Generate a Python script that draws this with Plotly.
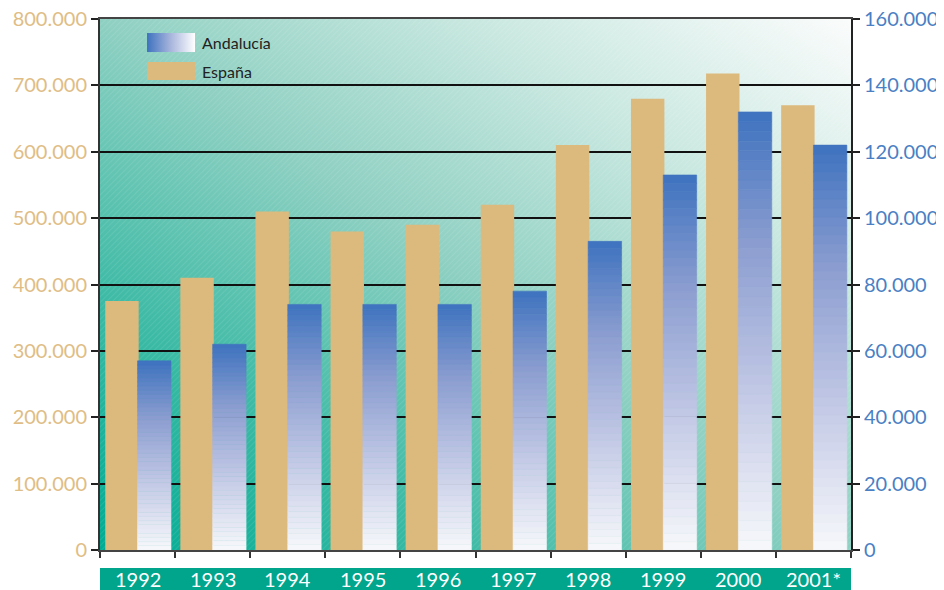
import base64
import plotly.graph_objects as go

years = ["1992", "1993", "1994", "1995", "1996", "1997", "1998", "1999", "2000", "2001*"]
espana = [375000, 410000, 510000, 480000, 490000, 520000, 610000, 680000, 718000, 670000]
andalucia = [57000, 62000, 74000, 74000, 74000, 78000, 93000, 113000, 132000, 122000]
left_ticks = [0, 100000, 200000, 300000, 400000, 500000, 600000, 700000, 800000]
right_ticks = [0, 20000, 40000, 60000, 80000, 100000, 120000, 140000, 160000]

TAN = "#dcb97d"
LEFT_COL = "#e0bd85"
RIGHT_COL = "#4a7fc4"
BAND = "#00a58c"
FONT = "Lato"


def hex2rgb(h):
    h = h.lstrip("#")
    return tuple(int(h[i:i + 2], 16) for i in (0, 2, 4))


grad_stops = [(0.0, "#f7f8fb"), (0.35, "#c4cae6"), (0.7, "#8b9dd0"), (1.0, "#3e72bf")]


def grad_color(t):
    for (t0, c0), (t1, c1) in zip(grad_stops[:-1], grad_stops[1:]):
        if t <= t1:
            f = (t - t0) / (t1 - t0)
            a, b = hex2rgb(c0), hex2rgb(c1)
            return "rgb(%d,%d,%d)" % tuple(round(a[i] + (b[i] - a[i]) * f) for i in range(3))
    return grad_stops[-1][1]


# background gradient image for plot area
bg_svg = """<svg xmlns='http://www.w3.org/2000/svg' width='751' height='531' viewBox='0 0 751 531' preserveAspectRatio='none'>
<defs>
<linearGradient id='g' x1='0' y1='1' x2='1' y2='0'>
<stop offset='0' stop-color='#00ab93'/>
<stop offset='0.25' stop-color='#40bba6'/>
<stop offset='0.5' stop-color='#8ed0c2'/>
<stop offset='0.75' stop-color='#c9e8e0'/>
<stop offset='1' stop-color='#fbfcfc'/>
</linearGradient>
<pattern id='p' width='4' height='4' patternUnits='userSpaceOnUse' patternTransform='rotate(45)'>
<line x1='0' y1='0' x2='0' y2='4' stroke='white' stroke-width='1' stroke-opacity='0.18'/>
</pattern>
</defs>
<rect width='751' height='531' fill='url(#g)'/>
<rect width='751' height='531' fill='url(#p)'/>
</svg>"""
bg_uri = "data:image/svg+xml;base64," + base64.b64encode(bg_svg.encode()).decode()

sw_svg = """<svg xmlns='http://www.w3.org/2000/svg' width='48' height='19' viewBox='0 0 48 19' preserveAspectRatio='none'>
<defs><linearGradient id='s' x1='0' y1='0' x2='1' y2='0'>
<stop offset='0' stop-color='#3e72bf'/><stop offset='0.5' stop-color='#a9b6dc'/><stop offset='1' stop-color='#ffffff'/>
</linearGradient></defs><rect width='48' height='19' fill='url(#s)'/></svg>"""
sw_uri = "data:image/svg+xml;base64," + base64.b64encode(sw_svg.encode()).decode()

xs = list(range(len(years)))

fig = go.Figure()

fig.add_trace(go.Bar(
    x=xs, y=espana, offset=-0.43, width=0.445,
    marker=dict(color=TAN, line=dict(width=0)),
    hoverinfo="skip", showlegend=False, yaxis="y",
))

# Andalucía: gradient bars built from stacked segments of each value
N = 45
seg_x, seg_base, seg_h, seg_c = [], [], [], []
for i, v in enumerate(andalucia):
    for k in range(N):
        seg_x.append(i)
        seg_base.append(v * k / N)
        seg_h.append(v / N)
        seg_c.append(grad_color((k + 0.5) / N))
fig.add_trace(go.Bar(
    x=seg_x, y=seg_h, base=seg_base, offset=0.0, width=0.445,
    marker=dict(color=seg_c, line=dict(width=0.6, color=seg_c)),
    hoverinfo="skip", showlegend=False, yaxis="y2",
))

annotations = [
    dict(x=i, y=-0.055, xref="x", yref="paper", text=yr, showarrow=False,
         font=dict(family=FONT, size=20, color="white"), xanchor="center", yanchor="middle")
    for i, yr in enumerate(years)
]
annotations += [
    dict(x=0.1335, y=0.956, xref="paper", yref="paper", text="Andalucía", showarrow=False,
         font=dict(family=FONT, size=16, color="#222222"), xanchor="left", yanchor="middle"),
    dict(x=0.1335, y=0.902, xref="paper", yref="paper", text="España", showarrow=False,
         font=dict(family=FONT, size=16, color="#222222"), xanchor="left", yanchor="middle"),
]

fig.update_layout(
    width=944, height=590,
    margin=dict(l=92, r=101, t=11, b=48, autoexpand=False),
    paper_bgcolor="white",
    plot_bgcolor="rgba(0,0,0,0)",
    separators=",.",
    barmode="overlay",
    showlegend=False,
    font=dict(family=FONT),
    images=[
        dict(source=bg_uri, xref="paper", yref="paper", x=0, y=1, sizex=1, sizey=1,
             sizing="stretch", layer="below", xanchor="left", yanchor="top"),
        dict(source=sw_uri, xref="paper", yref="paper", x=0.0626, y=0.9736, sizex=0.064, sizey=0.036,
             sizing="stretch", layer="above", xanchor="left", yanchor="top"),
    ],
    shapes=[
        dict(type="rect", xref="x", yref="paper", x0=-0.53, x1=9.53, y0=-0.034, y1=-0.1,
             fillcolor=BAND, line=dict(width=0), layer="above"),
        dict(type="rect", xref="paper", yref="paper", x0=0.0626, x1=0.1266, y0=0.885, y1=0.919,
             fillcolor=TAN, line=dict(width=0), layer="above"),
    ],
    annotations=annotations,
    xaxis=dict(
        range=[-0.5, 9.5], tickmode="array", tickvals=[i - 0.5 for i in range(len(years) + 1)],
        showticklabels=False, ticks="outside", ticklen=6, tickwidth=2, tickcolor="#333333",
        showgrid=False, showline=True, linecolor="#444444", linewidth=2, zeroline=False,
        mirror=True, fixedrange=True, automargin=False,
    ),
    yaxis=dict(
        range=[0, 800000], tickmode="array", tickvals=left_ticks, tickformat=",d",
        tickfont=dict(family=FONT, size=20, color=LEFT_COL), ticklabeloverflow="allow",
        ticks="outside", ticklen=7, tickwidth=2, tickcolor="#222222",
        showgrid=True, gridcolor="#111111", gridwidth=1.5,
        showline=True, linecolor="#333333", linewidth=2, zeroline=False, fixedrange=True,
        automargin=False,
    ),
    yaxis2=dict(
        range=[0, 160000], tickmode="array", tickvals=right_ticks, tickformat=",d",
        overlaying="y", side="right",
        tickfont=dict(family=FONT, size=20, color=RIGHT_COL), ticklabeloverflow="allow",
        ticks="outside", ticklen=7, tickwidth=2, tickcolor="#222222",
        showgrid=False, showline=True, linecolor="#222222", linewidth=2, zeroline=False,
        fixedrange=True, automargin=False,
    ),
)

fig.write_html("out.html")
